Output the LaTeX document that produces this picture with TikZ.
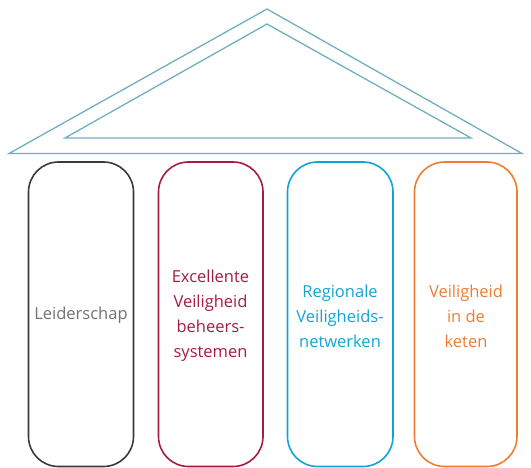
\documentclass[tikz,border=0pt]{standalone}
\usepackage{fontspec}
\setmainfont{Open Sans}
\definecolor{roofc}{HTML}{6FAFBE}
\definecolor{grayline}{HTML}{3A3A3C}
\definecolor{graytext}{HTML}{707173}
\definecolor{redc}{HTML}{A51C43}
\definecolor{bluec}{HTML}{12A3D6}
\definecolor{orangec}{HTML}{EE7D31}
\begin{document}
\begin{tikzpicture}[x=1pt,y=-1pt,
  pillar/.style={draw, line width=1.6pt, rounded corners=30pt},
  ptext/.style={font=\fontsize{16.5}{25}\selectfont, align=center, inner sep=0pt},
  roof/.style={draw=roofc, line width=1.3pt, line join=miter}]
\useasboundingbox (0,0) rectangle (531,468);
% roof
\coordinate (oa) at (267,9);
\coordinate (ol) at (9,153.5);
\coordinate (or) at (522,153.5);
\coordinate (ia) at (267,24);
\coordinate (il) at (65,138);
\coordinate (ir) at (471,138);
\draw[roof] (oa) -- (or) -- (ol) -- cycle;
\draw[roof] (ia) -- (ir) -- (il) -- cycle;
% pillars
\draw[pillar, draw=grayline] (28.5,162) rectangle (133.5,466.5);
\draw[pillar, draw=redc] (158.5,162) rectangle (263,466.5);
\draw[pillar, draw=bluec] (287.5,162) rectangle (393,466.5);
\draw[pillar, draw=orangec] (414.5,162) rectangle (517,466.5);
% texts
\node[ptext, text=graytext] (t1) at (81,315) {Leiderschap};
\node[ptext, text=redc] (t2) at (210.5,316) {Excellente\\Veiligheid\\beheers-\\systemen};
\node[ptext, text=bluec] (t3) at (340,316) {Regionale\\Veiligheids-\\netwerken};
\node[ptext, text=orangec] (t4) at (466,316) {Veiligheid\\in de\\keten};
\end{tikzpicture}
\end{document}
